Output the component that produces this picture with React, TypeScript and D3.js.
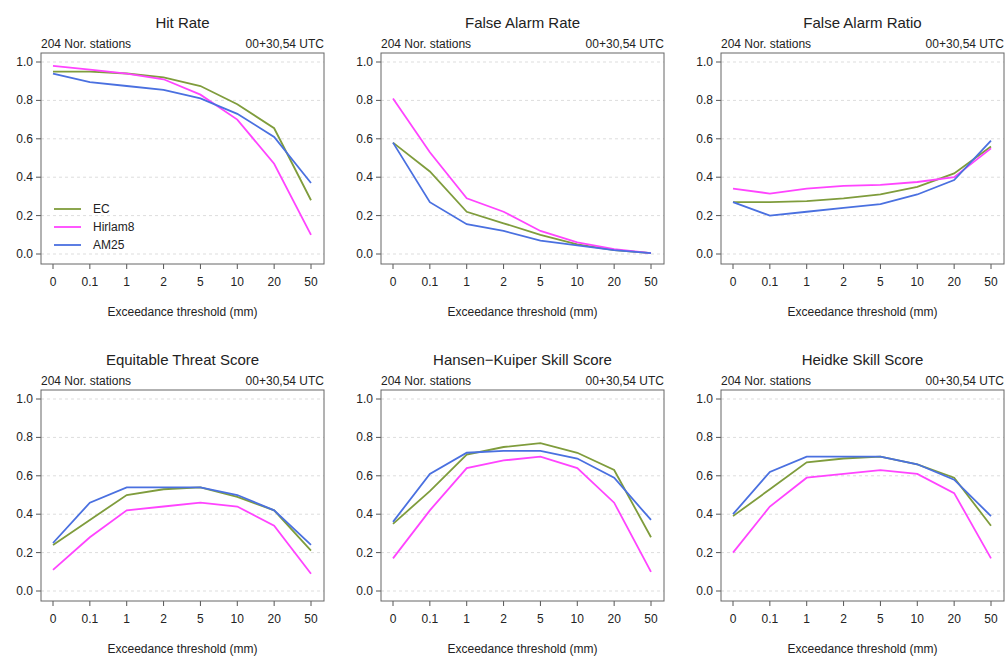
import React from 'react';
import * as d3 from 'd3';

const thresholds = ['0', '0.1', '1', '2', '5', '10', '20', '50'];
const yTicks = [0, 0.2, 0.4, 0.6, 0.8, 1.0];
const models = ['EC', 'Hirlam8', 'AM25'];
const colors = ['#7f9c3c', '#ff44ff', '#4a70e0'];
const titles = ['Hit Rate', 'False Alarm Rate', 'False Alarm Ratio', 'Equitable Threat Score', 'Hansen\u2212Kuiper Skill Score', 'Heidke Skill Score'];

const hitRate = [
  [0.95, 0.95, 0.94, 0.92, 0.875, 0.78, 0.655, 0.28],
  [0.98, 0.96, 0.94, 0.91, 0.83, 0.70, 0.47, 0.10],
  [0.94, 0.895, 0.875, 0.855, 0.81, 0.73, 0.61, 0.37],
];
const falseAlarmRate = [
  [0.58, 0.43, 0.22, 0.16, 0.10, 0.05, 0.02, 0.005],
  [0.81, 0.53, 0.29, 0.22, 0.12, 0.06, 0.025, 0.005],
  [0.58, 0.27, 0.155, 0.12, 0.07, 0.045, 0.02, 0.005],
];
const falseAlarmRatio = [
  [0.27, 0.27, 0.275, 0.29, 0.31, 0.35, 0.42, 0.56],
  [0.34, 0.315, 0.34, 0.355, 0.36, 0.375, 0.40, 0.55],
  [0.27, 0.20, 0.22, 0.24, 0.26, 0.31, 0.385, 0.59],
];
const ets = [
  [0.24, 0.37, 0.50, 0.53, 0.54, 0.49, 0.42, 0.21],
  [0.11, 0.28, 0.42, 0.44, 0.46, 0.44, 0.34, 0.09],
  [0.25, 0.46, 0.54, 0.54, 0.54, 0.50, 0.42, 0.24],
];
const hk = [
  [0.35, 0.52, 0.71, 0.75, 0.77, 0.72, 0.63, 0.28],
  [0.17, 0.42, 0.64, 0.68, 0.70, 0.64, 0.46, 0.10],
  [0.36, 0.61, 0.72, 0.73, 0.73, 0.69, 0.59, 0.37],
];
const hss = [
  [0.39, 0.53, 0.67, 0.69, 0.70, 0.66, 0.59, 0.34],
  [0.20, 0.44, 0.59, 0.61, 0.63, 0.61, 0.51, 0.17],
  [0.40, 0.62, 0.70, 0.70, 0.70, 0.66, 0.58, 0.39],
];
const panels = [hitRate, falseAlarmRate, falseAlarmRatio, ets, hk, hss];

const font = '"Liberation Sans", Arial, sans-serif';

const Panel = ({ title, series, ox, oy, legend }: any) => {
  const left = 41, right = 324, top = 53, bottom = 264;
  const x = d3.scalePoint().domain(thresholds).range([53, 311]);
  const y = d3.scaleLinear().domain([0, 1]).range([254, 62]);
  const line = d3.line<number>().x((_, i) => x(thresholds[i])!).y(d => y(d));
  return (
    <g transform={`translate(${ox},${oy})`} fontFamily={font} fill="#222">
      <text x={(left + right) / 2} y={28} textAnchor="middle" fontSize={15}>{title}</text>
      <text x={left} y={48} fontSize={12}>204 Nor. stations</text>
      <text x={right} y={48} fontSize={12} textAnchor="end">00+30,54 UTC</text>
      {yTicks.map(t => (
        <g key={t}>
          <line x1={left} x2={right} y1={y(t)} y2={y(t)} stroke="#ddd" strokeDasharray="3,3" />
          <line x1={left - 5} x2={left} y1={y(t)} y2={y(t)} stroke="#555" />
          <text x={left - 8} y={y(t) + 4} fontSize={12} textAnchor="end">{t.toFixed(1)}</text>
        </g>
      ))}
      {thresholds.map(t => (
        <g key={t}>
          <line x1={x(t)} x2={x(t)} y1={bottom} y2={bottom + 5} stroke="#555" />
          <text x={x(t)} y={bottom + 22} fontSize={12} textAnchor="middle">{t}</text>
        </g>
      ))}
      <text x={(left + right) / 2} y={316} fontSize={12} textAnchor="middle">Exceedance threshold (mm)</text>
      {series.map((s: number[], i: number) => (
        <path key={i} d={line(s)!} fill="none" stroke={colors[i]} strokeWidth={1.8} />
      ))}
      <rect x={left} y={top} width={right - left} height={bottom - top} fill="none" stroke="#666" />
      {legend && models.map((m, i) => (
        <g key={m}>
          <line x1={54} x2={81} y1={209 + i * 18} y2={209 + i * 18} stroke={colors[i]} strokeWidth={1.8} />
          <text x={93} y={213 + i * 18} fontSize={12}>{m}</text>
        </g>
      ))}
    </g>
  );
};

export default function App() {
  return (
    <svg width={1005} height={663} style={{ position: 'fixed', left: 0, top: 0 }}>
      <rect width={1005} height={663} fill="#fff" />
      {panels.map((p, i) => (
        <Panel key={i} title={titles[i]} series={p} ox={(i % 3) * 340} oy={Math.floor(i / 3) * 337} legend={i === 0} />
      ))}
    </svg>
  );
}
